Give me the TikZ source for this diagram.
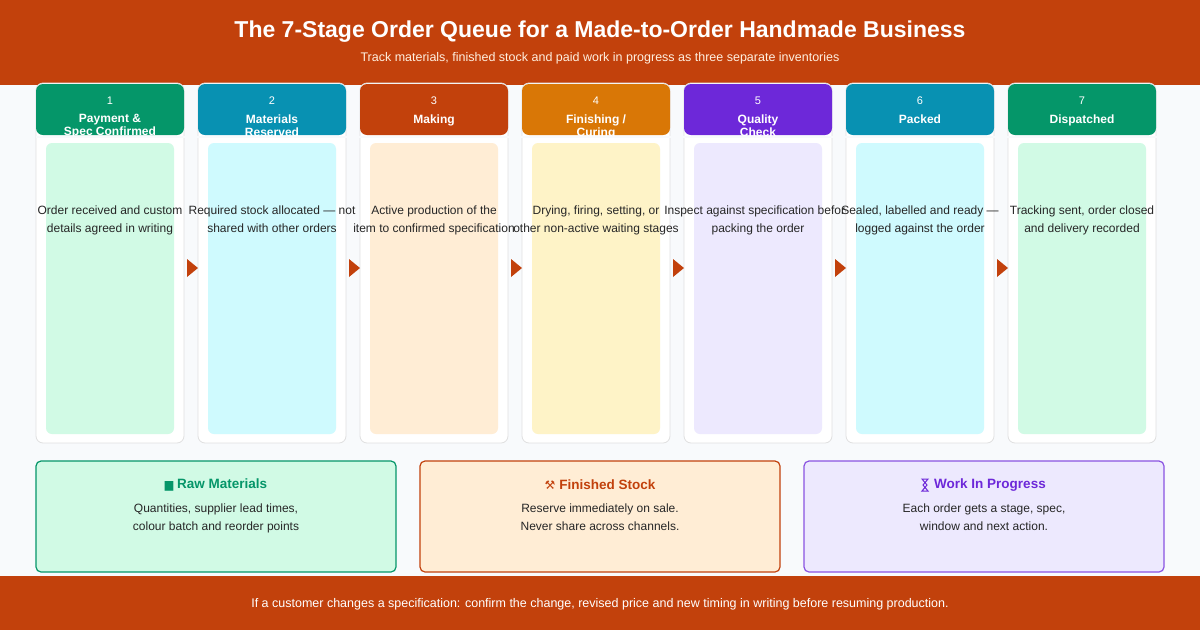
\documentclass[tikz,border=0pt]{standalone}
\usepackage{fontspec}
\setmainfont{Liberation Sans}
\newfontfamily\symf{DejaVu Sans}
\begin{document}
\begin{tikzpicture}[x=1pt,y=-1pt,
 card/.style={fill=white,draw=black!12,line width=0.8pt,rounded corners=7pt},
 panel/.style={rounded corners=6pt,draw=none},
 body/.style={font=\fontsize{12}{18}\selectfont,align=center,text=black!85,anchor=base},
 arr/.style={fill=hdrorange,draw=none},
 bbox/.style={rounded corners=5pt,line width=1.2pt}]
\definecolor{hdrorange}{HTML}{C2410C}
\definecolor{cg}{HTML}{059669}\definecolor{lg}{HTML}{D1FAE5}
\definecolor{cc}{HTML}{0891B2}\definecolor{lc}{HTML}{CFFAFE}
\definecolor{co}{HTML}{C2410C}\definecolor{lo}{HTML}{FFEDD5}
\definecolor{ca}{HTML}{D97706}\definecolor{la}{HTML}{FEF3C7}
\definecolor{cp}{HTML}{6D28D9}\definecolor{lp}{HTML}{EDE9FE}
\definecolor{bgc}{HTML}{F8FAFC}
\useasboundingbox (0,0) rectangle (1200,630);
\fill[bgc] (0,0) rectangle (1200,630);
\fill[hdrorange] (0,0) rectangle (1200,85);
\fill[hdrorange] (0,576) rectangle (1200,630);
\node[font=\bfseries\fontsize{23}{26}\selectfont,text=white] (title) at (600,32) {The 7-Stage Order Queue for a Made-to-Order Handmade Business};
\node[font=\fontsize{12.5}{15}\selectfont,text=white!88!orange] (sub) at (600,58) {Track materials, finished stock and paid work in progress as three separate inventories};
\node[font=\fontsize{12.5}{15}\selectfont,text=white] (foot) at (600,604) {If a customer changes a specification: confirm the change, revised price and new timing in writing before resuming production.};
\foreach \i/\c/\l/\t/\a/\b in {
 1/cg/lg/{Payment \&\\Spec Confirmed}/{Order received and custom}/{details agreed in writing},
 2/cc/lc/{Materials\\Reserved}/{Required stock allocated — not}/{shared with other orders},
 3/co/lo/{Making}/{Active production of the}/{item to confirmed specification},
 4/ca/la/{Finishing /\\Curing}/{Drying, firing, setting, or}/{other non-active waiting stages},
 5/cp/lp/{Quality\\Check}/{Inspect against specification before}/{packing the order},
 6/cc/lc/{Packed}/{Sealed, labelled and ready —}/{logged against the order},
 7/cg/lg/{Dispatched}/{Tracking sent, order closed}/{and delivery recorded}}{
 \pgfmathsetmacro\xl{36+162*(\i-1)}
 \pgfmathsetmacro\xc{\xl+74}
 \draw[card] (\xl,83) rectangle ++(148,360);
 \fill[\c,rounded corners=7pt] (\xl,84) rectangle ++(148,51);
 \fill[\l,panel] (\xl+10,143) rectangle ++(128,291);
 \node[font=\fontsize{11}{13}\selectfont,text=white!85] (n\i) at (\xc,101) {\i};
 \node[font=\bfseries\fontsize{12}{13}\selectfont,text=white,align=center,anchor=north] (t\i) at (\xc,111) {\t};
 \node[body] (a\i) at (\xc,214) {\a};
 \node[body] (b\i) at (\xc,232) {\b};
}
\fill[bgc] (36,135.6) rectangle (1200,138);
\foreach \i in {1,...,6}{
 \pgfmathsetmacro\xa{187+162*(\i-1)}
 \fill[arr] (\xa,259) -- (\xa+11,268) -- (\xa,277) -- cycle;
}
\draw[bbox,draw=cg,fill=lg] (36,461) rectangle (396,572);
\draw[bbox,draw=co,fill=lo] (420,461) rectangle (780,572);
\draw[bbox,draw=cp!80,fill=lp] (804,461) rectangle (1164,572);
\node[font=\bfseries\fontsize{13.5}{15}\selectfont,text=cg] (r) at (216,485) {{\symf\fontsize{11}{13}\selectfont ▆}\ Raw Materials};
\node[body] at (216,512) {Quantities, supplier lead times,};
\node[body] at (216,530) {colour batch and reorder points};
\node[font=\bfseries\fontsize{13.5}{15}\selectfont,text=co] (f) at (600,485) {{\symf\fontsize{12}{13}\selectfont ⚒}\ Finished Stock};
\node[body] at (600,512) {Reserve immediately on sale.};
\node[body] at (600,530) {Never share across channels.};
\node[font=\bfseries\fontsize{13.5}{15}\selectfont,text=cp] (w) at (990,485) {Work In Progress};
\draw[cp,line width=1pt] (922,479) -- (928,479) -- (923,485) -- (928,491) -- (922,491) -- (927,485) -- cycle;
\node[body] at (984,512) {Each order gets a stage, spec,};
\node[body] at (984,530) {window and next action.};
\end{tikzpicture}
\end{document}
